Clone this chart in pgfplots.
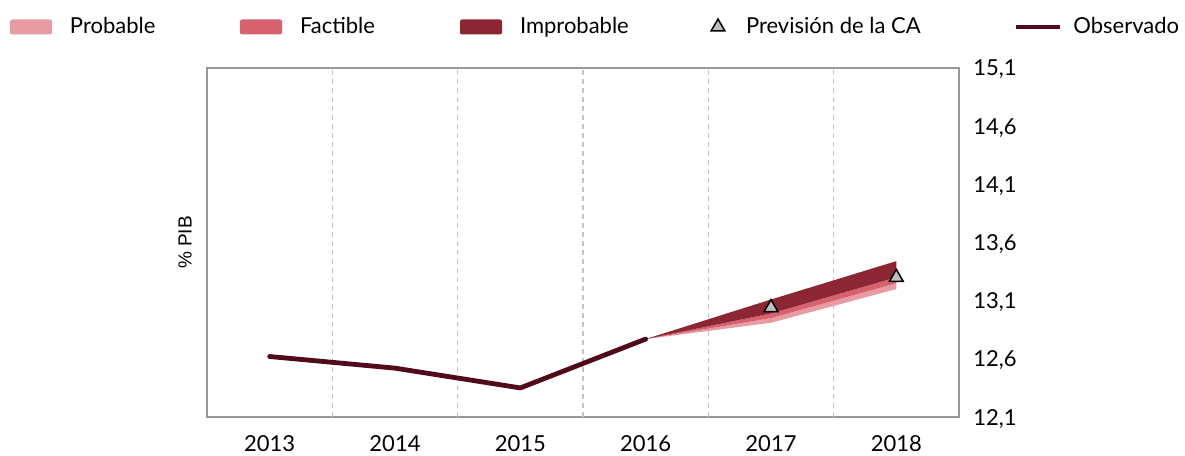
\documentclass[border=0pt]{standalone}
\usepackage{pgfplots}
\pgfplotsset{compat=1.18}
\usepackage{fontspec}
\setmainfont{Lato}
\newfontfamily\arialfont{Liberation Sans}
\definecolor{cProb}{HTML}{E79BA3}
\definecolor{cFact}{HTML}{D66270}
\definecolor{cImp}{HTML}{8C2634}
\definecolor{cObs}{HTML}{500A19}
\definecolor{cGrid}{HTML}{C4C4C4}
\definecolor{cAxis}{HTML}{999999}
\definecolor{cTri}{HTML}{BFBFBF}
\begin{document}
\begin{tikzpicture}
\begin{axis}[
  scale only axis, width=376pt, height=174.5pt,
  xmin=-0.5, xmax=5.5, ymin=12.1, ymax=15.1,
  axis line style={cAxis, line width=0.8pt},
  xtick={0,...,5}, xticklabels={2013,2014,2015,2016,2017,2018},
  ytick={12.1,12.6,13.1,13.6,14.1,14.6,15.1},
  yticklabels={{12,1},{12,6},{13,1},{13,6},{14,1},{14,6},{15,1}},
  yticklabel pos=right,
  major tick length=0pt,
  tick label style={font=\fontsize{11}{13}\selectfont, inner sep=0pt},
  xticklabel style={anchor=north, yshift=-9pt},
  yticklabel style={anchor=base west, xshift=7pt, yshift=-4pt},
  extra x ticks={0.5,1.5,2.5,3.5,4.5},
  extra x tick labels={},
  extra x tick style={grid=major, major grid style={cGrid, line width=0.6pt, dash pattern=on 2.5pt off 2pt}},
  legend columns=5,
  legend style={at={(0,1)}, anchor=west, xshift=-98.5pt, yshift=20.5pt, draw=none, fill=none, inner sep=0pt, outer sep=0pt, column sep=0pt, font=\fontsize{11}{13}\selectfont, nodes={inner sep=0pt}},
  legend cell align=left,
]
\addplot[fill=cProb, draw=none, legend image code/.code={\fill[cProb, rounded corners=1pt] (0pt,-3.75pt) rectangle (21pt,3.75pt); \path[draw=none, fill=none] (30pt,0pt);}]
  coordinates {(3,12.77) (4,12.95) (5,13.25) (5,13.20) (4,12.91) (3,12.77)};
\addlegendentry{\makebox[85pt][l]{Probable}}
\addplot[fill=cFact, draw=none, legend image code/.code={\fill[cFact, rounded corners=1pt] (0pt,-3.75pt) rectangle (21pt,3.75pt); \path[draw=none, fill=none] (30pt,0pt);}]
  coordinates {(3,12.77) (4,12.99) (5,13.30) (5,13.25) (4,12.95) (3,12.77)};
\addlegendentry{\makebox[80pt][l]{Factible}}
\addplot[fill=cImp, draw=none, legend image code/.code={\fill[cImp, rounded corners=1pt] (0pt,-3.75pt) rectangle (21pt,3.75pt); \path[draw=none, fill=none] (30pt,0pt);}]
  coordinates {(3,12.77) (4,13.11) (5,13.44) (5,13.30) (4,12.99) (3,12.77)};
\addlegendentry{\makebox[95.5pt][l]{Improbable}}
\addplot[cObs, line width=2.4pt, line cap=round, line join=round, forget plot]
  coordinates {(0,12.62) (1,12.52) (2,12.35) (3,12.77)};
\addplot[only marks, mark=triangle*, mark size=4pt, mark options={fill=cTri, draw=black, line width=0.75pt}, legend image code/.code={\path[draw=none, fill=none] (0pt,-4pt) rectangle (17.5pt,4pt); \draw[only marks, mark=triangle*, mark size=4pt, mark options={fill=cTri, draw=black, line width=0.75pt}] plot coordinates {(3.5pt,0pt)};}]
  coordinates {(4,13.04) (5,13.30)};
\addlegendentry{\makebox[134pt][l]{Previsión de la CA}}
\addlegendimage{cObs, line width=2.4pt, legend image code/.code={\draw[cObs, line width=2.4pt] (0pt,0pt) -- (22pt,0pt); \path[draw=none, fill=none] (28.5pt,0pt);}}
\addlegendentry{Observado}
\coordinate (sw) at (rel axis cs:0,0);
\coordinate (ne) at (rel axis cs:1,1);
\coordinate (ml) at (rel axis cs:0,0.5);
\end{axis}
\node[rotate=90, font=\arialfont\fontsize{9.5}{11}\selectfont] at ([xshift=-11pt]ml) {\% PIB};
\pgfresetboundingbox
\path[use as bounding box] ([shift={(-103.5pt,-19pt)}]sw) rectangle ([shift={(113pt,34pt)}]ne);
\end{tikzpicture}
\end{document}
